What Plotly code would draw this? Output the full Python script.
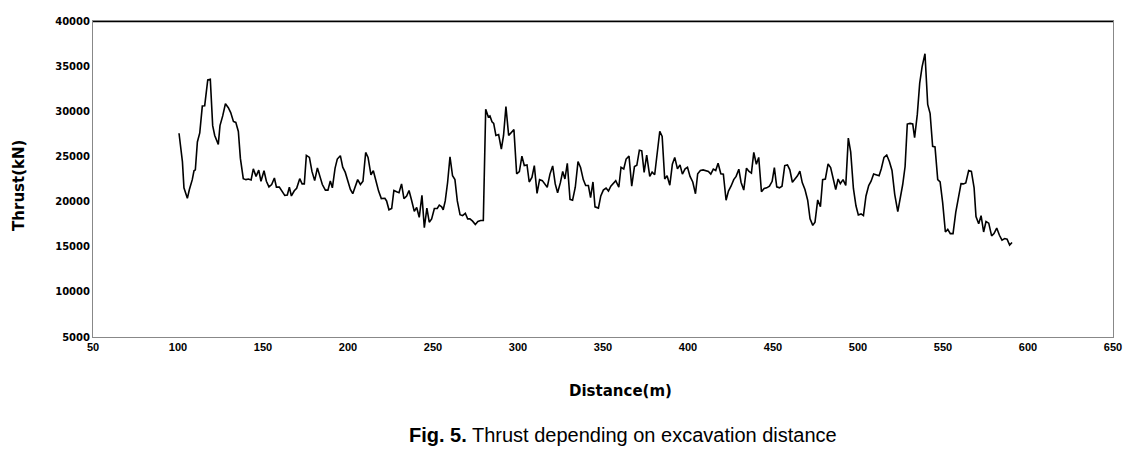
import plotly.graph_objects as go

# distance along the tunnel (m)
distance = [
    100.6, 102.6, 103.5, 105.5, 106.7, 108.4, 109.4, 110.2, 111.4, 112.8,
    114.3, 115.7, 117.5, 119.0, 120.4, 121.6, 123.7, 124.7, 126.3, 127.9,
    129.6, 131.0, 132.6, 134.0, 135.5, 136.7, 138.4, 140.0, 141.4, 143.0,
    144.3, 145.9, 147.5, 148.8, 150.6, 152.0, 153.5, 155.1, 156.7, 157.9,
    159.6, 161.0, 162.8, 164.3, 165.5, 166.7, 168.4, 169.8, 171.6, 173.0,
    174.3, 175.5, 177.3, 178.8, 180.4, 182.0, 183.5, 184.9, 186.7, 188.2,
    189.6, 190.8, 192.4, 193.7, 195.5, 196.9, 198.4, 199.8, 201.4, 202.8,
    204.1, 205.7, 207.3, 208.8, 210.4, 211.8, 213.5, 214.9, 216.5, 218.0,
    219.6, 221.7, 222.7, 224.1, 225.7, 227.0, 228.6, 230.0, 231.5, 232.9,
    234.5, 235.9, 237.4, 239.0, 240.4, 241.9, 243.5, 244.9, 246.4, 247.8,
    249.2, 250.8, 252.5, 253.7, 255.1, 256.0, 257.2, 258.6, 260.0, 261.5,
    262.9, 264.3, 265.9, 267.4, 269.0, 270.4, 271.7, 273.3, 274.9, 276.4,
    278.0, 279.6, 281.0, 282.5, 283.5, 284.7, 285.7, 287.0, 288.6, 290.2,
    291.5, 292.9, 294.5, 296.1, 297.6, 299.2, 300.8, 302.3, 303.7, 305.3,
    306.6, 308.2, 309.6, 311.2, 312.7, 314.3, 315.9, 317.2, 318.8, 320.4,
    321.9, 323.3, 324.9, 326.3, 327.6, 329.0, 330.6, 332.1, 333.7, 335.3,
    336.8, 338.4, 339.8, 341.4, 342.7, 344.1, 345.3, 347.3, 348.7, 350.2,
    351.8, 353.2, 354.6, 356.1, 357.5, 359.3, 360.6, 362.2, 363.6, 365.3,
    366.9, 368.5, 369.9, 371.4, 372.8, 374.2, 375.7, 377.5, 378.9, 380.4,
    381.8, 383.4, 384.8, 386.3, 387.7, 389.3, 390.8, 392.2, 393.8, 395.3,
    396.7, 398.3, 399.7, 401.2, 402.8, 404.4, 405.7, 407.3, 408.9, 410.4,
    412.0, 413.4, 414.9, 416.3, 417.7, 419.3, 420.8, 422.4, 423.8, 425.3,
    426.9, 428.3, 429.9, 431.2, 432.8, 434.4, 435.9, 437.3, 438.7, 440.2,
    441.6, 443.2, 444.8, 446.3, 447.9, 449.5, 450.8, 452.2, 453.8, 455.3,
    456.9, 458.5, 459.9, 461.4, 462.8, 464.4, 465.8, 467.2, 468.8, 470.4,
    471.8, 473.4, 474.7, 476.3, 477.9, 479.2, 480.8, 482.4, 483.9, 485.3,
    486.9, 488.3, 489.6, 491.2, 492.8, 494.3, 495.7, 497.3, 498.8, 500.2,
    501.8, 503.2, 504.7, 506.3, 507.7, 509.2, 510.8, 512.4, 513.7, 515.3,
    516.9, 518.5, 520.0, 521.6, 523.4, 524.7, 526.3, 527.7, 529.0, 530.6,
    532.2, 533.3, 534.9, 536.3, 537.7, 539.4, 541.0, 542.4, 543.9, 545.3,
    546.9, 548.3, 549.8, 551.4, 552.8, 554.3, 555.9, 557.5, 559.0, 560.6,
    562.0, 563.4, 565.1, 566.7, 568.3, 569.4, 571.0, 572.4, 573.9, 575.3,
    576.9, 578.6, 580.0, 581.6, 583.2, 584.7, 586.3, 587.7, 589.2, 590.6,
]

# thrust (kN)
thrust = [
    27570, 24420, 21520, 20360, 21340, 22430, 23410, 23520, 26600, 27610,
    30580, 30620, 33480, 33550, 28410, 27320, 26340, 28410, 29490, 30830,
    30400, 29860, 28880, 28770, 27760, 24780, 22540, 22430, 22500, 22390,
    23630, 22790, 23480, 22250, 23410, 22250, 21630, 21890, 22610, 21600,
    21600, 21160, 20690, 20730, 21600, 20620, 21200, 21480, 22540, 21960,
    21960, 25110, 24890, 23340, 22320, 23730, 22860, 21890, 21270, 21270,
    22290, 21520, 23700, 24710, 25080, 23810, 23230, 22320, 21340, 20870,
    21700, 22430, 21890, 22250, 25440, 24890, 22970, 23410, 22250, 21160,
    20330, 20360, 20070, 19090, 19240, 21230, 21090, 20980, 21960, 20330,
    20620, 21230, 20150, 18910, 19350, 18260, 20690, 17100, 19280, 17720,
    18080, 19240, 19240, 19600, 19420, 19090, 20070, 22140, 24960, 22860,
    22430, 20070, 18550, 18440, 18700, 18080, 18080, 17830, 17460, 17790,
    17900, 17900, 30220, 29380, 29490, 28840, 28660, 27320, 27430, 25800,
    27320, 30510, 27320, 27680, 27970, 23080, 23330, 25040, 23990, 24060,
    22170, 22680, 23990, 20910, 22430, 22320, 21960, 21590, 23040, 23950,
    21960, 20980, 22070, 23330, 22500, 24240, 20250, 20150, 21590, 24420,
    23770, 22430, 21780, 21780, 20440, 22170, 19420, 19280, 20620, 21270,
    21490, 21160, 21700, 22070, 22320, 21590, 23800, 23620, 24710, 25040,
    21700, 23880, 24020, 25690, 25620, 23230, 25150, 22790, 23260, 22970,
    25510, 27790, 27210, 22500, 22860, 21810, 24130, 24890, 23620, 24060,
    23040, 23620, 23800, 22790, 22170, 20870, 23080, 23440, 23510, 23440,
    23330, 23040, 23590, 23440, 24240, 23080, 23040, 20150, 21160, 21700,
    22430, 22790, 23590, 22140, 21270, 23700, 23330, 23150, 25440, 24130,
    24890, 21090, 21450, 21520, 21700, 22250, 23770, 21630, 21520, 21700,
    23990, 24060, 23510, 22140, 22430, 22860, 23370, 22100, 21340, 20150,
    18080, 17360, 17720, 20180, 19420, 22430, 22500, 24170, 23770, 22540,
    21340, 22500, 21990, 22430, 21780, 27030, 25510, 21450, 19530, 18520,
    18630, 18440, 20620, 21780, 22250, 23050, 22970, 22860, 23630, 24890,
    25150, 24420, 23440, 20800, 18880, 20260, 21890, 23880, 28590, 28660,
    28590, 27070, 29680, 33120, 34930, 36380, 30760, 29780, 26120, 26050,
    22430, 22180, 19890, 16630, 16920, 16450, 16450, 18810, 20440, 21990,
    21960, 22070, 23440, 23340, 21520, 18340, 17540, 18440, 16630, 17790,
    17610, 16200, 16450, 17070, 16270, 15730, 15910, 15840, 15180, 15470,
]

x_ticks = [50, 100, 150, 200, 250, 300, 350, 400, 450, 500, 550, 600, 650]
y_ticks = [5000, 10000, 15000, 20000, 25000, 30000, 35000, 40000]

fig = go.Figure()
fig.add_trace(go.Scatter(
    x=distance, y=thrust, mode="lines",
    line=dict(color="black", width=1.6),
    showlegend=False,
))

# page body has an 8px margin, so the figure is drawn 16px smaller
fig.update_layout(
    width=1129, height=441,
    margin=dict(l=85, r=24, t=7, b=112),
    paper_bgcolor="white", plot_bgcolor="white",
    xaxis=dict(
        range=[50, 650], tickvals=x_ticks, showgrid=False, zeroline=False,
        showline=True, linecolor="#888888", linewidth=1, mirror=True,
        ticks="", ticklen=0,
        tickfont=dict(family="Liberation Sans Narrow, Arial Narrow, sans-serif",
                      size=11, color="black", weight="bold"),
    ),
    yaxis=dict(
        range=[5000, 40000], tickvals=y_ticks, tickformat="d",
        showgrid=False, zeroline=False,
        showline=True, linecolor="#888888", linewidth=1, mirror=True,
        ticks="", ticklen=0,
        tickfont=dict(family="DejaVu Sans, sans-serif", size=10,
                      color="black", weight="bold"),
    ),
    shapes=[dict(type="line", xref="paper", yref="y", x0=0, x1=1,
                 y0=40000, y1=40000, line=dict(color="black", width=2.5))],
    annotations=[
        dict(text="<b>Thrust(kN)</b>", xref="paper", yref="paper",
             x=-0.072, y=0.48, textangle=-90, showarrow=False,
             xanchor="center", yanchor="middle",
             font=dict(family="DejaVu Sans, sans-serif", size=15, color="black")),
        dict(text="<b>Distance(m)</b>", xref="paper", yref="paper",
             x=0.517, y=-0.171, showarrow=False,
             xanchor="center", yanchor="middle",
             font=dict(family="DejaVu Sans, sans-serif", size=15, color="black")),
        dict(text="<b>Fig. 5.</b> Thrust depending on excavation distance",
             xref="paper", yref="paper", x=0.52, y=-0.311, showarrow=False,
             xanchor="center", yanchor="middle",
             font=dict(family="Liberation Sans, Arial, sans-serif",
                       size=20, color="black")),
    ],
)

fig.write_html("out.html")
